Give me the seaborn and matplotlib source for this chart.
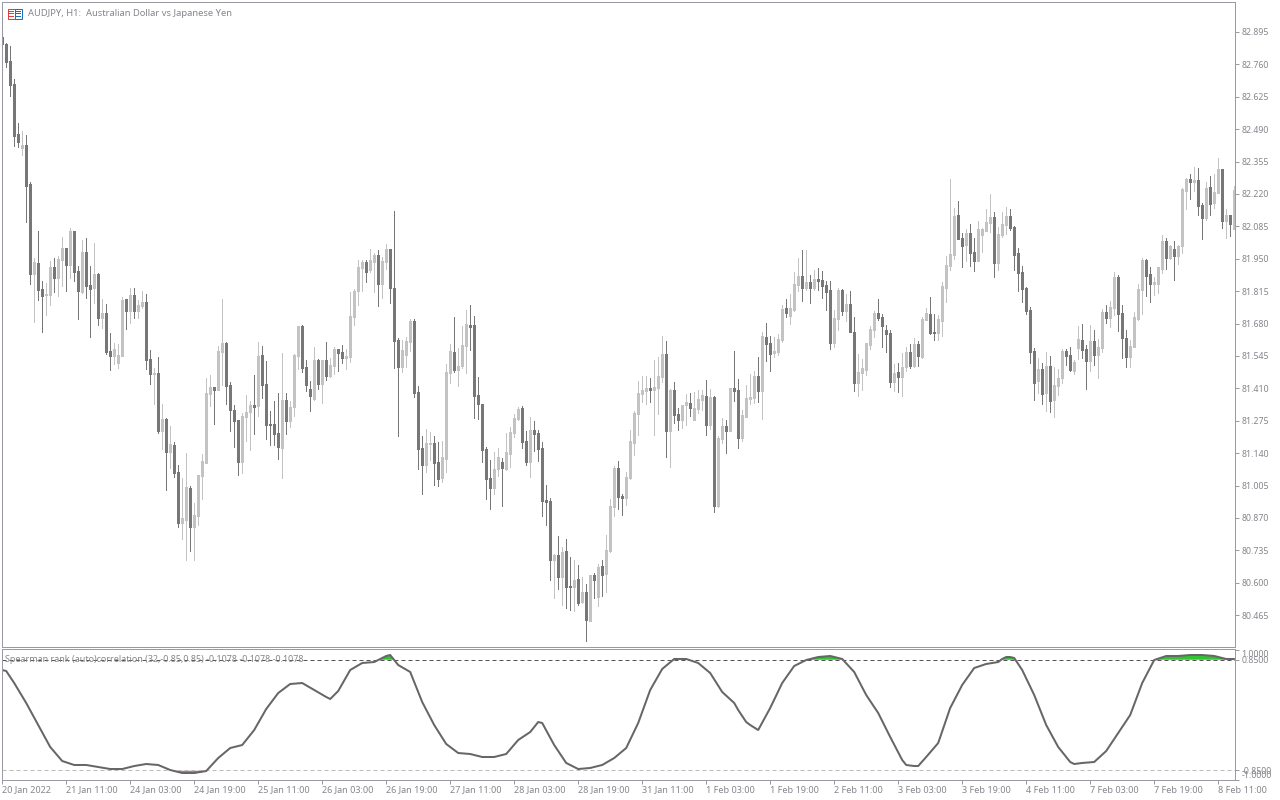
import numpy as np
import pandas as pd
import matplotlib as mpl
mpl.use('Agg')
import matplotlib.pyplot as plt
from matplotlib.patches import Rectangle
import seaborn as sns

# AUDJPY H1 candles, one entry per bar
bar_open = [
    82.874, 82.845, 82.774, 82.678, 82.470, 82.412, 82.424, 82.262, 81.887, 81.932,
    81.824, 81.799, 81.799, 81.916, 81.870, 81.945, 81.995, 81.924, 82.066, 81.899,
    81.812, 81.978, 81.841, 81.828, 81.887, 81.703, 81.724, 81.566, 81.545, 81.516,
    81.545, 81.783, 81.733, 81.799, 81.733, 81.753, 81.770, 81.533, 81.470, 81.474,
    81.233, 81.283, 81.145, 81.174, 81.062, 80.849, 80.862, 80.995, 80.833, 80.878,
    81.045, 81.099, 81.387, 81.416, 81.403, 81.562, 81.599, 81.424, 81.320, 81.278,
    81.103, 81.291, 81.312, 81.341, 81.337, 81.549, 81.428, 81.262, 81.262, 81.224,
    81.162, 81.362, 81.274, 81.333, 81.545, 81.670, 81.499, 81.408, 81.366, 81.528,
    81.428, 81.528, 81.462, 81.503, 81.574, 81.562, 81.537, 81.541, 81.708, 81.816,
    81.912, 81.937, 81.903, 81.937, 81.966, 81.845, 81.937, 81.991, 81.828, 81.612,
    81.499, 81.549, 81.603, 81.691, 81.395, 81.162, 81.091, 81.178, 81.183, 81.103,
    81.037, 81.116, 81.474, 81.562, 81.487, 81.503, 81.587, 81.674, 81.674, 81.383,
    81.345, 81.158, 81.037, 80.995, 81.074, 81.103, 81.074, 81.137, 81.224, 81.283,
    81.328, 81.191, 81.103, 81.237, 81.224, 81.162, 80.945, 80.941, 80.695, 80.716,
    80.624, 80.733, 80.587, 80.583, 80.616, 80.520, 80.562, 80.441, 80.633, 80.541,
    80.670, 80.637, 80.733, 80.916, 81.078, 80.962, 80.953, 81.037, 81.183, 81.303,
    81.387, 81.399, 81.412, 81.403, 81.412, 81.458, 81.553, 81.233, 81.403, 81.303,
    81.278, 81.341, 81.349, 81.278, 81.324, 81.362, 81.378, 81.258, 81.374, 80.920,
    81.199, 81.253, 81.233, 81.412, 81.403, 81.203, 81.291, 81.366, 81.370, 81.462,
    81.399, 81.624, 81.599, 81.558, 81.562, 81.612, 81.745, 81.712, 81.737, 81.841,
    81.878, 81.828, 81.853, 81.828, 81.866, 81.862, 81.841, 81.820, 81.599, 81.699,
    81.820, 81.733, 81.762, 81.645, 81.433, 81.474, 81.487, 81.591, 81.653, 81.724,
    81.708, 81.653, 81.641, 81.437, 81.478, 81.458, 81.499, 81.562, 81.503, 81.595,
    81.541, 81.695, 81.720, 81.645, 81.641, 81.691, 81.828, 81.920, 81.966, 82.133,
    82.037, 82.008, 82.058, 81.978, 81.941, 82.049, 82.066, 82.099, 82.124, 81.932,
    82.049, 82.091, 82.128, 82.083, 81.974, 81.895, 81.828, 81.737, 81.566, 81.441,
    81.491, 81.391, 81.503, 81.362, 81.420, 81.453, 81.566, 81.549, 81.483, 81.578,
    81.612, 81.574, 81.524, 81.608, 81.549, 81.578, 81.728, 81.703, 81.745, 81.874,
    81.724, 81.620, 81.541, 81.583, 81.699, 81.820, 81.945, 81.887, 81.845, 81.845,
    81.908, 82.024, 81.953, 81.991, 81.962, 82.003, 82.233, 82.282, 82.270, 82.278,
    82.174, 82.120, 82.249, 82.183, 82.224, 82.324, 82.107, 82.133, 82.074,
]
bar_high = [
    82.878, 82.849, 82.837, 82.699, 82.516, 82.482, 82.466, 82.270, 81.953, 82.066,
    81.857, 81.849, 81.941, 81.953, 81.962, 82.041, 81.995, 82.078, 82.066, 81.920,
    82.028, 82.037, 81.920, 82.016, 81.891, 81.783, 81.762, 81.641, 81.599, 81.595,
    81.791, 81.783, 81.828, 81.828, 81.778, 81.816, 81.803, 81.570, 81.495, 81.541,
    81.345, 81.287, 81.253, 81.187, 81.091, 81.037, 81.141, 81.003, 80.933, 81.049,
    81.137, 81.453, 81.466, 81.416, 81.587, 81.783, 81.603, 81.437, 81.341, 81.278,
    81.308, 81.383, 81.358, 81.466, 81.603, 81.587, 81.524, 81.316, 81.358, 81.391,
    81.558, 81.391, 81.358, 81.553, 81.670, 81.674, 81.528, 81.441, 81.583, 81.533,
    81.528, 81.603, 81.537, 81.583, 81.574, 81.591, 81.574, 81.812, 81.824, 81.945,
    81.945, 81.945, 81.991, 81.974, 81.987, 81.957, 82.012, 81.991, 82.149, 81.620,
    81.612, 81.624, 81.699, 81.699, 81.420, 81.212, 81.241, 81.228, 81.212, 81.187,
    81.191, 81.512, 81.595, 81.708, 81.578, 81.670, 81.737, 81.758, 81.712, 81.458,
    81.345, 81.166, 81.112, 81.145, 81.162, 81.120, 81.224, 81.249, 81.303, 81.333,
    81.337, 81.233, 81.291, 81.274, 81.237, 81.187, 81.008, 80.953, 80.720, 80.795,
    80.749, 80.783, 80.708, 80.695, 80.674, 80.624, 80.595, 80.633, 80.641, 80.678,
    80.695, 80.799, 80.949, 81.087, 81.108, 80.970, 81.062, 81.237, 81.316, 81.441,
    81.462, 81.462, 81.453, 81.528, 81.541, 81.628, 81.608, 81.408, 81.437, 81.328,
    81.341, 81.387, 81.391, 81.395, 81.403, 81.403, 81.445, 81.408, 81.378, 81.212,
    81.287, 81.278, 81.412, 81.566, 81.449, 81.320, 81.424, 81.470, 81.483, 81.541,
    81.645, 81.683, 81.628, 81.624, 81.637, 81.758, 81.783, 81.803, 81.895, 81.953,
    81.987, 81.987, 81.883, 81.903, 81.912, 81.899, 81.857, 81.857, 81.737, 81.828,
    81.824, 81.803, 81.816, 81.708, 81.553, 81.533, 81.599, 81.670, 81.733, 81.783,
    81.720, 81.674, 81.653, 81.512, 81.516, 81.558, 81.583, 81.595, 81.620, 81.608,
    81.708, 81.745, 81.791, 81.720, 81.716, 81.853, 81.962, 82.282, 82.162, 82.191,
    82.058, 82.074, 82.095, 82.037, 82.107, 82.078, 82.158, 82.220, 82.145, 82.083,
    82.145, 82.166, 82.158, 82.087, 81.995, 81.920, 81.833, 81.749, 81.578, 81.537,
    81.516, 81.562, 81.545, 81.499, 81.491, 81.574, 81.574, 81.583, 81.528, 81.670,
    81.678, 81.591, 81.674, 81.653, 81.616, 81.741, 81.758, 81.774, 81.895, 81.883,
    81.758, 81.653, 81.612, 81.728, 81.845, 81.953, 81.949, 81.916, 81.874, 81.916,
    82.049, 82.037, 82.008, 82.024, 82.008, 82.245, 82.287, 82.303, 82.333, 82.328,
    82.183, 82.270, 82.295, 82.303, 82.370, 82.324, 82.158, 82.133, 82.253,
]
bar_low = [
    82.841, 82.749, 82.628, 82.420, 82.416, 82.383, 82.103, 81.845, 81.687, 81.778,
    81.645, 81.716, 81.758, 81.812, 81.795, 81.837, 81.816, 81.870, 81.857, 81.699,
    81.808, 81.787, 81.624, 81.766, 81.674, 81.662, 81.553, 81.487, 81.512, 81.495,
    81.545, 81.658, 81.683, 81.703, 81.703, 81.745, 81.491, 81.428, 81.345, 81.224,
    81.158, 80.987, 81.078, 81.041, 80.833, 80.783, 80.695, 80.733, 80.695, 80.841,
    80.949, 81.099, 81.337, 81.262, 81.403, 81.424, 81.345, 81.233, 81.166, 81.049,
    81.058, 81.191, 81.153, 81.220, 81.295, 81.370, 81.199, 81.174, 81.174, 81.116,
    81.037, 81.220, 81.249, 81.295, 81.491, 81.478, 81.399, 81.316, 81.362, 81.408,
    81.349, 81.445, 81.458, 81.470, 81.483, 81.516, 81.491, 81.520, 81.674, 81.758,
    81.816, 81.853, 81.895, 81.812, 81.753, 81.787, 81.908, 81.766, 81.495, 81.212,
    81.478, 81.499, 81.566, 81.374, 81.074, 80.970, 81.062, 81.112, 81.008, 81.003,
    81.020, 81.062, 81.433, 81.478, 81.420, 81.495, 81.474, 81.570, 81.287, 81.283,
    81.103, 80.949, 80.908, 80.970, 81.045, 80.920, 81.070, 81.083, 81.208, 81.278,
    81.162, 81.091, 81.041, 81.149, 81.108, 80.878, 80.841, 80.612, 80.537, 80.574,
    80.508, 80.495, 80.487, 80.483, 80.508, 80.516, 80.358, 80.441, 80.537, 80.503,
    80.545, 80.562, 80.728, 80.878, 80.908, 80.883, 80.924, 81.033, 81.133, 81.216,
    81.353, 81.345, 81.353, 81.216, 81.303, 81.437, 81.124, 81.083, 81.266, 81.237,
    81.245, 81.258, 81.295, 81.278, 81.308, 81.320, 81.216, 81.241, 80.895, 80.916,
    81.183, 81.141, 81.233, 81.358, 81.162, 81.191, 81.291, 81.345, 81.349, 81.353,
    81.283, 81.524, 81.483, 81.541, 81.549, 81.603, 81.708, 81.678, 81.733, 81.816,
    81.774, 81.820, 81.766, 81.820, 81.820, 81.787, 81.737, 81.574, 81.583, 81.653,
    81.716, 81.691, 81.645, 81.399, 81.378, 81.403, 81.466, 81.574, 81.624, 81.695,
    81.583, 81.562, 81.416, 81.399, 81.395, 81.378, 81.483, 81.495, 81.499, 81.503,
    81.537, 81.695, 81.637, 81.612, 81.612, 81.628, 81.770, 81.903, 81.949, 82.033,
    81.916, 81.941, 81.920, 81.899, 81.941, 81.978, 82.066, 82.062, 81.874, 81.903,
    82.041, 82.053, 82.070, 81.903, 81.816, 81.770, 81.720, 81.516, 81.362, 81.391,
    81.345, 81.316, 81.312, 81.291, 81.383, 81.433, 81.508, 81.483, 81.470, 81.533,
    81.537, 81.408, 81.483, 81.508, 81.453, 81.562, 81.683, 81.666, 81.716, 81.649,
    81.537, 81.499, 81.499, 81.583, 81.695, 81.720, 81.795, 81.770, 81.799, 81.808,
    81.891, 81.908, 81.949, 81.862, 81.928, 81.974, 82.158, 82.199, 82.233, 82.133,
    82.033, 82.112, 82.133, 82.162, 82.224, 82.078, 82.037, 82.045, 82.074,
]
bar_close = [
    82.845, 82.770, 82.674, 82.462, 82.437, 82.424, 82.253, 81.887, 81.937, 81.820,
    81.795, 81.803, 81.916, 81.870, 81.949, 81.995, 81.924, 82.066, 81.895, 81.816,
    81.978, 81.837, 81.824, 81.887, 81.703, 81.724, 81.562, 81.545, 81.574, 81.549,
    81.778, 81.733, 81.799, 81.733, 81.758, 81.770, 81.528, 81.470, 81.474, 81.233,
    81.283, 81.145, 81.178, 81.058, 80.849, 80.870, 80.999, 80.833, 80.883, 81.049,
    81.108, 81.391, 81.416, 81.403, 81.566, 81.599, 81.420, 81.320, 81.274, 81.103,
    81.295, 81.312, 81.341, 81.333, 81.545, 81.424, 81.258, 81.258, 81.220, 81.166,
    81.362, 81.274, 81.333, 81.549, 81.670, 81.495, 81.424, 81.378, 81.528, 81.428,
    81.528, 81.462, 81.508, 81.574, 81.558, 81.537, 81.545, 81.712, 81.816, 81.916,
    81.937, 81.895, 81.945, 81.966, 81.845, 81.941, 81.991, 81.828, 81.608, 81.499,
    81.570, 81.608, 81.691, 81.391, 81.158, 81.091, 81.183, 81.183, 81.099, 81.033,
    81.124, 81.478, 81.566, 81.487, 81.503, 81.591, 81.678, 81.666, 81.378, 81.345,
    81.153, 81.033, 80.995, 81.074, 81.124, 81.078, 81.145, 81.228, 81.287, 81.324,
    81.187, 81.103, 81.237, 81.220, 81.158, 80.941, 80.937, 80.695, 80.716, 80.624,
    80.728, 80.583, 80.583, 80.612, 80.516, 80.562, 80.445, 80.633, 80.612, 80.666,
    80.633, 80.737, 80.920, 81.078, 80.957, 80.953, 81.041, 81.191, 81.308, 81.391,
    81.403, 81.412, 81.403, 81.416, 81.462, 81.553, 81.233, 81.403, 81.299, 81.278,
    81.341, 81.353, 81.328, 81.328, 81.366, 81.383, 81.258, 81.374, 80.920, 81.203,
    81.253, 81.233, 81.412, 81.399, 81.203, 81.299, 81.370, 81.374, 81.462, 81.399,
    81.628, 81.595, 81.553, 81.566, 81.616, 81.741, 81.724, 81.745, 81.845, 81.878,
    81.828, 81.853, 81.828, 81.866, 81.857, 81.837, 81.812, 81.599, 81.703, 81.820,
    81.733, 81.762, 81.645, 81.433, 81.478, 81.495, 81.599, 81.658, 81.724, 81.703,
    81.670, 81.637, 81.437, 81.474, 81.458, 81.499, 81.562, 81.503, 81.595, 81.545,
    81.699, 81.724, 81.641, 81.641, 81.699, 81.837, 81.924, 81.970, 82.128, 82.033,
    82.003, 82.058, 81.974, 81.941, 82.074, 82.074, 82.103, 82.124, 81.932, 82.053,
    82.095, 82.128, 82.078, 81.966, 81.891, 81.824, 81.733, 81.562, 81.433, 81.491,
    81.387, 81.503, 81.358, 81.424, 81.453, 81.566, 81.545, 81.487, 81.520, 81.616,
    81.570, 81.524, 81.608, 81.549, 81.583, 81.728, 81.703, 81.749, 81.874, 81.720,
    81.620, 81.541, 81.587, 81.708, 81.824, 81.945, 81.878, 81.845, 81.853, 81.916,
    82.024, 81.953, 82.003, 81.962, 82.003, 82.241, 82.282, 82.270, 82.278, 82.170,
    82.120, 82.245, 82.178, 82.228, 82.324, 82.107, 82.133, 82.095, 82.237,
]
price_ticks = [82.895, 82.760, 82.625, 82.490, 82.355, 82.220, 82.085, 81.950, 81.815, 81.680,
               81.545, 81.410, 81.275, 81.140, 81.005, 80.870, 80.735, 80.600, 80.465]

# Spearman line, read at these bars
corr_bar = [0, 1, 3, 6, 9, 12, 15, 18, 21, 24, 27, 30, 33, 36, 39, 42, 45, 48, 51, 54,
            57, 60, 63, 66, 69, 72, 75, 78, 81, 82, 84, 87, 90, 93, 96, 97, 99, 102, 105, 108,
            111, 114, 117, 120, 123, 126, 129, 132, 134, 135, 138, 141, 144, 147, 150, 153, 156, 159, 162, 165,
            168, 171, 174, 177, 180, 183, 184, 186, 187, 189, 192, 195, 198, 201, 204, 207, 210, 213, 216, 219,
            222, 225, 226, 228, 229, 231, 234, 237, 240, 243, 246, 249, 250, 251, 252, 253, 255, 258, 261, 264,
            267, 268, 270, 273, 276, 279, 282, 285, 288, 291, 294, 297, 300, 303, 306, 308]
corr_val = [0.692, 0.677, 0.492, 0.185, -0.154, -0.492, -0.708, -0.769, -0.769, -0.800,
            -0.831, -0.831, -0.785, -0.754, -0.769, -0.846, -0.892, -0.892, -0.862, -0.662,
            -0.508, -0.462, -0.231, 0.092, 0.338, 0.477, 0.492, 0.385, 0.277, 0.246,
            0.369, 0.692, 0.800, 0.815, 0.908, 0.923, 0.769, 0.662, 0.200, -0.154,
            -0.446, -0.585, -0.600, -0.646, -0.646, -0.600, -0.385, -0.262, -0.108, -0.123,
            -0.462, -0.738, -0.831, -0.815, -0.769, -0.662, -0.508, -0.123, 0.385, 0.708,
            0.862, 0.862, 0.800, 0.646, 0.354, 0.185, 0.077, -0.108, -0.154, -0.231,
            0.108, 0.492, 0.754, 0.846, 0.892, 0.908, 0.862, 0.662, 0.308, 0.031,
            -0.338, -0.692, -0.769, -0.785, -0.785, -0.646, -0.431, 0.108, 0.462, 0.723,
            0.785, 0.815, 0.862, 0.892, 0.892, 0.877, 0.692, 0.308, -0.154, -0.492,
            -0.723, -0.754, -0.738, -0.723, -0.554, -0.277, 0.000, 0.492, 0.846, 0.908,
            0.908, 0.923, 0.923, 0.908, 0.862, 0.862]
level_ticks = [1.0, 0.85, -0.85, -1.0]
level_labels = ['1.0000', '0.8500', '-0.8500', '-1.0000']

date_ticks = list(range(0, 308, 16))
date_labels = ['20 Jan 2022', '21 Jan 11:00', '24 Jan 03:00', '24 Jan 19:00', '25 Jan 11:00',
               '26 Jan 03:00', '26 Jan 19:00', '27 Jan 11:00', '28 Jan 03:00', '28 Jan 19:00',
               '31 Jan 11:00', '1 Feb 03:00', '1 Feb 19:00', '2 Feb 11:00', '3 Feb 03:00',
               '3 Feb 19:00', '4 Feb 11:00', '7 Feb 03:00', '7 Feb 19:00', '8 Feb 11:00']

W, H = 1280, 800
PX = 72 / 100  # one pixel in points
FRAME = '#9a9aa2'
TEXT = '#85858c'
DARK = '#777777'
LIGHT = '#c3c3c3'

sns.set_style('white')
plt.rcParams['font.family'] = ['Noto Sans', 'DejaVu Sans']
plt.rcParams['font.size'] = 6.4

fig = plt.figure(figsize=(W / 100, H / 100), dpi=100, facecolor='white')


def px_axes(left, top, right, bottom):
    return fig.add_axes([left / W, 1 - bottom / H, (right - left) / W, (bottom - top) / H])


# the .2 keeps agg's line snapping on the same pixel rows as the reference frame
ax1 = px_axes(2.2, 2.2, 1235.2, 647.2)
ax2 = px_axes(2.2, 649.2, 1235.2, 780.2)

df = pd.DataFrame({'open': bar_open, 'high': bar_high, 'low': bar_low, 'close': bar_close})
df['bar'] = df.index
up = df[df['close'] >= df['open']]
down = df[df['close'] < df['open']]

# wicks first, then the 3px bodies
for part, color in ((up, LIGHT), (down, DARK)):
    ax1.vlines(part['bar'], part['low'], part['high'], colors=color, linewidth=0.95 * PX,
               antialiased=False, capstyle='butt')
    ax1.vlines(part['bar'], part['open'], part['close'], colors=color, linewidth=2.9 * PX,
               antialiased=False, capstyle='butt')

ax1.set_xlim(0, 308.25)
ax1.set_ylim(83.0283 - 647.2 / 240, 83.0283 - 2.2 / 240)
ax1.set_xticks([])
ax1.yaxis.tick_right()
ax1.set_yticks(price_ticks)
ax1.set_yticklabels([f'{v:.3f}' for v in price_ticks])

# indicator panel
cb = np.array(corr_bar)
cv = np.array(corr_val)
ax2.fill_between(cb, 0.85, cv, where=cv >= 0.85, interpolate=True, color='#2fc52f', lw=0)
ax2.fill_between(cb, -0.85, cv, where=cv <= -0.85, interpolate=True, color='#e0668f', lw=0)
ax2.axhline(0.85, color='#555555', lw=PX, linestyle=(0, (4, 3)))
ax2.axhline(-0.85, color='#bbbbbb', lw=PX, linestyle=(0, (4, 3)))
sns.lineplot(x=corr_bar, y=corr_val, ax=ax2, color='#666666', linewidth=2 * PX,
             estimator=None, sort=False, legend=False)
ax2.set_xlim(0, 308.25)
ax2.set_ylim((715 - 780.2) / 65, (715 - 649.2) / 65)
ax2.set_xlabel('')
ax2.set_ylabel('')
ax2.yaxis.tick_right()
ax2.set_yticks(level_ticks)
ax2.set_yticklabels(level_labels)
ax2.get_yticklabels()[0].set_va('top')
ax2.get_yticklabels()[3].set_va('bottom')
ax2.set_xticks(date_ticks)
ax2.set_xticklabels(date_labels, ha='left')

for ax in (ax1, ax2):
    ax.set_facecolor('white')
    for s in ax.spines.values():
        s.set_color(FRAME)
        s.set_linewidth(PX)
    ax.tick_params(axis='both', length=4 * PX, width=PX, color=FRAME, labelcolor=TEXT,
                   labelsize=6.3, pad=1.5, right=True, left=False)
ax2.tick_params(axis='x', bottom=True, pad=1, labelsize=6.5)

# header text and the little chart icon
fig.text(28 / W, 1 - 13.5 / H, 'AUDJPY, H1:  Australian Dollar vs Japanese Yen', color=TEXT,
         fontsize=6.75, va='center', ha='left')
fig.text(5 / W, 1 - 659 / H, 'Spearman rank (auto)correlation (32,-0.85,0.85) -0.1078 -0.1078 -0.1078',
         color=TEXT, fontsize=6.45, va='center', ha='left', zorder=5)


def px_rect(x, y, w, h, **kw):
    fig.add_artist(Rectangle((x / W, 1 - (y + h) / H), w / W, h / H, transform=fig.transFigure, **kw))


px_rect(7.5, 8.5, 7, 10, facecolor='white', edgecolor='#e0403a', linewidth=PX)
px_rect(14.5, 8.5, 7, 10, facecolor='white', edgecolor='#1f6fb5', linewidth=PX)
for yy in (10.5, 13, 15.5):
    px_rect(9, yy, 4.5, 1, facecolor='#e0403a', linewidth=0)
    px_rect(16, yy, 4.5, 1, facecolor='#1f6fb5', linewidth=0)

fig.savefig('out.png', dpi=100, facecolor='white')
